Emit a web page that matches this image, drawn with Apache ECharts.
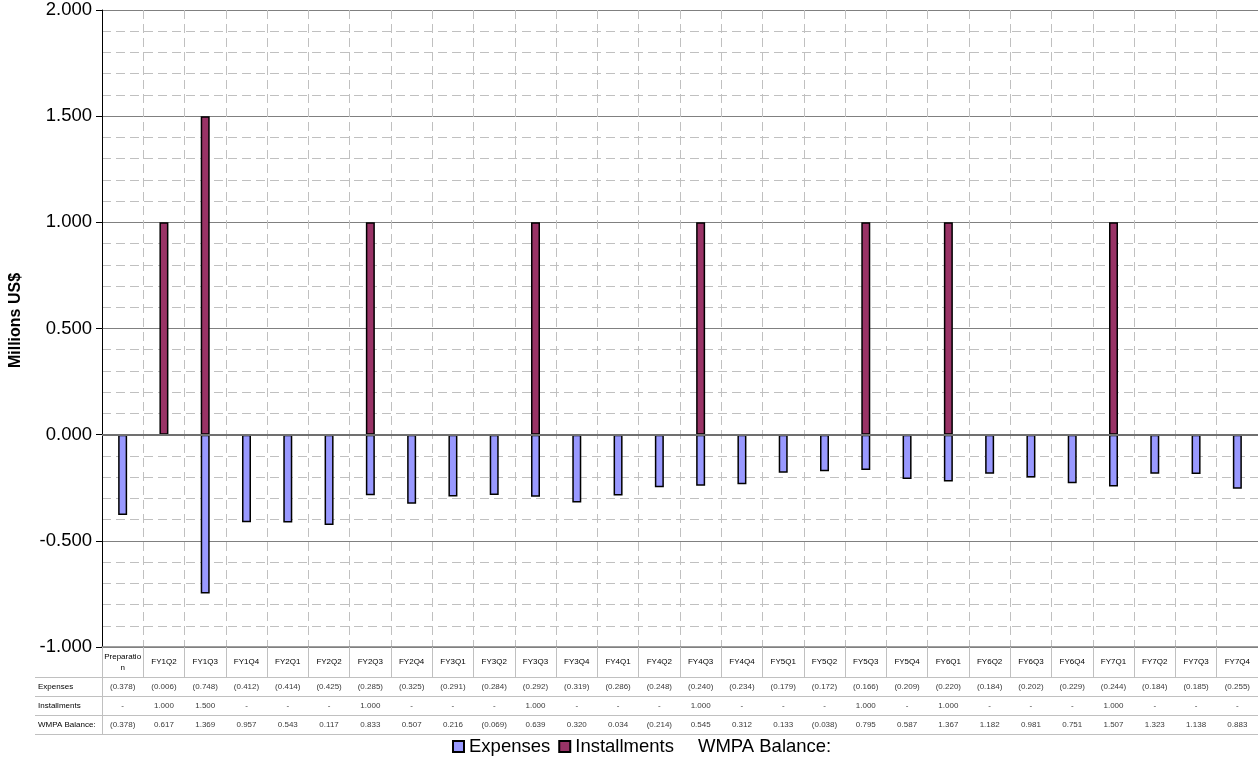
<!DOCTYPE html>
<html>
<head>
<meta charset="utf-8">
<script src="https://cdn.jsdelivr.net/npm/echarts@6/dist/echarts.min.js"></script>
<style>
html,body{margin:0;padding:0;background:#fff;}
#chart{width:1258px;height:774px;}
</style>
</head>
<body>
<div id="chart"></div>
<script>
const categories = ['Preparation','FY1Q2','FY1Q3','FY1Q4','FY2Q1','FY2Q2','FY2Q3','FY2Q4','FY3Q1','FY3Q2','FY3Q3','FY3Q4','FY4Q1','FY4Q2','FY4Q3','FY4Q4','FY5Q1','FY5Q2','FY5Q3','FY5Q4','FY6Q1','FY6Q2','FY6Q3','FY6Q4','FY7Q1','FY7Q2','FY7Q3','FY7Q4'];
const expenses = [-0.378,-0.006,-0.748,-0.412,-0.414,-0.425,-0.285,-0.325,-0.291,-0.284,-0.292,-0.319,-0.286,-0.248,-0.240,-0.234,-0.179,-0.172,-0.166,-0.209,-0.220,-0.184,-0.202,-0.229,-0.244,-0.184,-0.185,-0.255];
const installments = [0,1.000,1.500,0,0,0,1.000,0,0,0,1.000,0,0,0,1.000,0,0,0,1.000,0,1.000,0,0,0,1.000,0,0,0];
const wmpaBalance = [-0.378,0.617,1.369,0.957,0.543,0.117,0.833,0.507,0.216,-0.069,0.639,0.320,0.034,-0.214,0.545,0.312,0.133,-0.038,0.795,0.587,1.367,1.182,0.981,0.751,1.507,1.323,1.138,0.883];
const rowNames = ['Expenses','Installments','WMPA Balance:'];
const yTicks = {min:-1, max:2, step:0.5};

const tableFont = "'Liberation Sans Narrow', 'Liberation Sans', Arial, sans-serif";
const mainFont = "'Liberation Sans', Arial, sans-serif";
const gridLine = '#c0c0c0';

function fmt(v){
  if (v === 0) return '-';
  if (v < 0) return '(' + (-v).toFixed(3) + ')';
  return v.toFixed(3);
}

const rowSeries = [expenses, installments, wmpaBalance];
const tableData = [];
rowSeries.forEach(function(arr, r){
  arr.forEach(function(v, i){ tableData.push([i, r, v]); });
});

const chart = echarts.init(document.getElementById('chart'), null, {renderer:'canvas'});
chart.setOption({
  animation: false,
  textStyle: {fontFamily: mainFont, color:'#000'},
  grid: [
    {left:102, right:0, top:10, bottom:127, containLabel:false},
    {left:102, right:0, top:677, bottom:40, containLabel:false}
  ],
  legend: {
    left: 452, top: 737, padding: 0,
    itemWidth: 11, itemHeight: 11, itemGap: 8,
    textStyle: {fontSize: 18.5, color:'#000', fontFamily: mainFont},
    data: [
      {name:'Expenses', icon:'rect'},
      {name:'Installments', icon:'rect'},
      {name:'WMPA Balance:', icon:'none'}
    ]
  },
  xAxis: [
    {
      type:'category', gridIndex:0, data:categories, position:'bottom',
      axisLine:{onZero:false, lineStyle:{color:'#808080', width:1.5}},
      axisTick:{show:true, interval:0, length:30, lineStyle:{color:gridLine}},
      axisLabel:{interval:0, fontSize:8, margin:15, verticalAlign:'middle', color:'#000', fontFamily:tableFont, lineHeight:11,
        formatter:function(v){ return v.length > 10 ? v.slice(0,10) + '\n' + v.slice(10) : v; }},
      splitLine:{show:true, interval:0, lineStyle:{color:gridLine, type:[9,5]}}
    },
    {
      type:'category', gridIndex:1, data:categories, position:'top',
      axisLine:{show:true, lineStyle:{color:gridLine}},
      axisTick:{show:false}, axisLabel:{show:false}, splitLine:{show:false}
    },
    {
      type:'category', gridIndex:1, data:categories, position:'bottom',
      axisLine:{show:true, lineStyle:{color:gridLine}},
      axisTick:{show:false}, axisLabel:{show:false}, splitLine:{show:false}
    }
  ],
  yAxis: [
    {
      type:'value', gridIndex:0, min:yTicks.min, max:yTicks.max, interval:yTicks.step,
      name:'Millions US$', nameLocation:'middle', nameGap:78,
      nameTextStyle:{fontSize:16, fontWeight:'bold', color:'#000', fontFamily:mainFont, padding:[0,0,0,16]},
      axisLine:{show:true, lineStyle:{color:'#000', width:1}},
      axisTick:{show:true, length:6, lineStyle:{color:'#000'}},
      axisLabel:{fontSize:18.5, color:'#000', margin:10, formatter:function(v){ return v.toFixed(3); }},
      splitLine:{show:true, lineStyle:{color:'#808080', width:1}},
      minorTick:{show:false, splitNumber:5},
      minorSplitLine:{show:true, lineStyle:{color:gridLine, type:[9,5], width:1}}
    },
    {
      type:'category', gridIndex:1, data:rowNames, inverse:true,
      axisLine:{show:true, lineStyle:{color:gridLine}},
      axisTick:{show:true, interval:0, length:67, lineStyle:{color:gridLine}},
      axisLabel:{interval:0, align:'left', margin:64, fontSize:8, color:'#000', fontFamily:tableFont},
      splitLine:{show:true, interval:0, lineStyle:{color:gridLine}}
    },
    {
      type:'category', gridIndex:1, data:rowNames, inverse:true, offset:67,
      axisLine:{show:true, lineStyle:{color:gridLine}},
      axisTick:{show:false}, axisLabel:{show:false}, splitLine:{show:false}
    }
  ],
  series: [
    {
      name:'Expenses', type:'bar', xAxisIndex:0, yAxisIndex:0,
      data: expenses, barWidth:9, barGap:'-100%',
      itemStyle:{color:'#9999FF', borderColor:'#000', borderWidth:1.5},
      markLine:{silent:true, symbol:'none', label:{show:false},
        lineStyle:{color:'#707070', width:2, type:'solid'}, data:[{yAxis:0}]},
      z:3
    },
    {
      name:'Installments', type:'bar', xAxisIndex:0, yAxisIndex:0,
      data: installments.map(function(v){ return v === 0 ? '-' : v; }), barWidth:9, barGap:'-100%',
      itemStyle:{color:'#993366', borderColor:'#000', borderWidth:1.5},
      z:3
    },
    {
      name:'WMPA Balance:', type:'line', xAxisIndex:0, yAxisIndex:0,
      data: wmpaBalance, symbol:'none', lineStyle:{opacity:0}, silent:true
    },
    {
      name:'table', type:'scatter', xAxisIndex:1, yAxisIndex:1,
      data: tableData, symbol:'rect', symbolSize:1, silent:true,
      itemStyle:{color:'rgba(0,0,0,0)'},
      encode:{x:0, y:1},
      label:{show:true, position:'inside', fontSize:8, color:'#000', fontFamily:tableFont,
        formatter:function(p){ return fmt(p.value[2]); }}
    }
  ]
});
</script>
</body>
</html>
